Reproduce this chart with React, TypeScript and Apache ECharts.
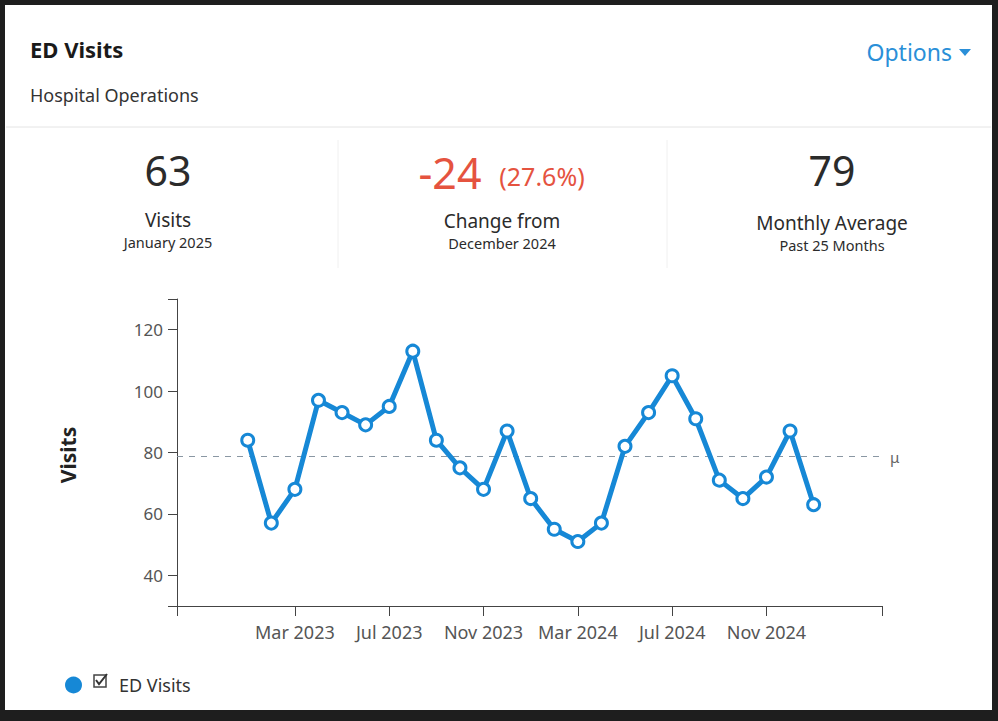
import React, { useEffect, useRef } from "react";
import * as echarts from "echarts";

const months = [
  "Jan 2023", "Feb 2023", "Mar 2023", "Apr 2023", "May 2023", "Jun 2023",
  "Jul 2023", "Aug 2023", "Sep 2023", "Oct 2023", "Nov 2023", "Dec 2023",
  "Jan 2024", "Feb 2024", "Mar 2024", "Apr 2024", "May 2024", "Jun 2024",
  "Jul 2024", "Aug 2024", "Sep 2024", "Oct 2024", "Nov 2024", "Dec 2024",
  "Jan 2025",
];
const visits = [84, 57, 68, 97, 93, 89, 95, 113, 84, 75, 68, 87, 65, 55, 51, 57, 82, 93, 105, 91, 71, 65, 72, 87, 63];
const xTickIndex = [2, 6, 10, 14, 18, 22];
const xTickLabels = ["Mar 2023", "Jul 2023", "Nov 2023", "Mar 2024", "Jul 2024", "Nov 2024"];
const yTickValues = [40, 60, 80, 100, 120];

const FONT = "'Noto Sans', 'Open Sans', sans-serif";
const BLUE = "#1688d6";
const RED = "#e5533f";
const DARK = "#2b2b2b";

export default function App() {
  const ref = useRef<HTMLDivElement>(null);
  useEffect(() => {
    if (!ref.current) return;
    const chart = echarts.init(ref.current, undefined, { renderer: "svg" });
    const data = visits.map((v, i) => [i, v]);
    const mean = visits.reduce((a, b) => a + b, 0) / visits.length;
    const xMin = -3, xMax = 26.9, yMin = 30, yMax = 130;

    const statText = (x: number, y: number, text: string, size: number, color: string, weight: string = "normal") => ({
      type: "text",
      x, y,
      style: { text, fill: color, font: `${weight} ${size}px ${FONT}`, textAlign: "center", textVerticalAlign: "middle", lineHeight: size },
    });

    chart.setOption({
      animation: false,
      backgroundColor: "#1e1e1e",
      graphic: [
        { type: "rect", z: -100, shape: { x: 5, y: 5, width: 987, height: 705 }, style: { fill: "#ffffff" } },
        { type: "line", z: -90, shape: { x1: 6, y1: 127, x2: 991, y2: 127 }, style: { stroke: "#e4e4e4", lineWidth: 1 } },
        { type: "line", z: -90, shape: { x1: 338, y1: 140, x2: 338, y2: 268 }, style: { stroke: "#f0f0f0", lineWidth: 1 } },
        { type: "line", z: -90, shape: { x1: 667, y1: 140, x2: 667, y2: 268 }, style: { stroke: "#f0f0f0", lineWidth: 1 } },
        { type: "text", x: 30, y: 49, style: { text: "ED Visits", fill: "#1a1a1a", font: `bold 22px ${FONT}`, textVerticalAlign: "middle" } },
        { type: "text", x: 30, y: 95, style: { text: "Hospital Operations", fill: "#333", font: `18px ${FONT}`, textVerticalAlign: "middle" } },
        { type: "text", x: 952, y: 52, style: { text: "Options", fill: "#2a8fd8", font: `23px ${FONT}`, textAlign: "right", textVerticalAlign: "middle" } },
        { type: "polygon", shape: { points: [[959, 49], [971, 49], [965, 56]] }, style: { fill: "#2a8fd8" } },
        statText(168, 170, "63", 41, DARK),
        statText(168, 220, "Visits", 19, DARK),
        statText(168, 242, "January 2025", 14.5, DARK),
        { type: "text", x: 450, y: 172, style: { text: "-24", fill: RED, font: `43px ${FONT}`, textAlign: "center", textVerticalAlign: "middle" } },
        { type: "text", x: 542, y: 176, style: { text: "(27.6%)", fill: RED, font: `25px ${FONT}`, textAlign: "center", textVerticalAlign: "middle" } },
        statText(502, 221, "Change from", 19, DARK),
        statText(502, 243, "December 2024", 14.5, DARK),
        statText(832, 223, "Monthly Average", 19, DARK),
        statText(832, 170, "79", 41, DARK),
        statText(832, 245, "Past 25 Months", 14.5, DARK),
        { type: "text", x: 68, y: 455, rotation: Math.PI / 2, style: { text: "Visits", fill: "#222", font: `bold 21px ${FONT}`, textAlign: "center", textVerticalAlign: "middle" } },
        { type: "rect", shape: { x: 94, y: 675, width: 12, height: 12 }, style: { fill: "#fff", stroke: "#444", lineWidth: 1.5 } },
        { type: "polyline", shape: { points: [[96, 680], [99, 684], [107, 674]] }, style: { stroke: "#333", lineWidth: 2, fill: null } },
      ],
      legend: {
        left: 60,
        top: 671,
        icon: "circle",
        itemWidth: 17,
        itemHeight: 17,
        textStyle: { fontFamily: FONT, fontSize: 18, color: "#333", padding: [0, 0, 0, 32] },
        data: [{ name: "ED Visits", itemStyle: { color: BLUE, borderWidth: 0 } }],
      },
      grid: { left: 177, right: 116, top: 299, bottom: 115, containLabel: false },
      xAxis: {
        type: "value",
        min: xMin,
        max: xMax,
        splitLine: { show: false },
        axisLine: { show: true, onZero: false, lineStyle: { color: "#444", width: 1 } },
        axisTick: { show: true, length: 10, lineStyle: { color: "#444" }, customValues: [xMin, ...xTickIndex, xMax] },
        axisLabel: {
          customValues: xTickIndex,
          margin: 17,
          fontFamily: FONT,
          fontSize: 18,
          color: "#555",
          formatter: (v: number) => xTickLabels[xTickIndex.indexOf(v)] ?? "",
        },
      },
      yAxis: {
        type: "value",
        min: yMin,
        max: yMax,
        splitLine: { show: false },
        axisLine: { show: true, onZero: false, lineStyle: { color: "#444", width: 1 } },
        axisTick: { show: true, length: 9, lineStyle: { color: "#444" }, customValues: [yMin, ...yTickValues, yMax] },
        axisLabel: { customValues: yTickValues, margin: 14, fontFamily: FONT, fontSize: 17, color: "#555" },
      },
      series: [
        {
          name: "ED Visits",
          type: "line",
          data,
          lineStyle: { color: BLUE, width: 5 },
          symbol: "circle",
          symbolSize: 12,
          itemStyle: { color: "#fff", borderColor: BLUE, borderWidth: 3 },
          z: 5,
          markLine: {
            silent: true,
            symbol: "none",
            lineStyle: { color: "#8a97a3", type: [6, 6], width: 1 },
            label: { show: true, position: "end", formatter: "μ", color: "#666", fontFamily: FONT, fontSize: 15, distance: 8 },
            data: [{ yAxis: mean }],
          },
        },
      ],
    });
    return () => chart.dispose();
  }, []);
  return <div ref={ref} style={{ position: "fixed", left: 0, top: 0, width: 998, height: 721 }} />;
}
